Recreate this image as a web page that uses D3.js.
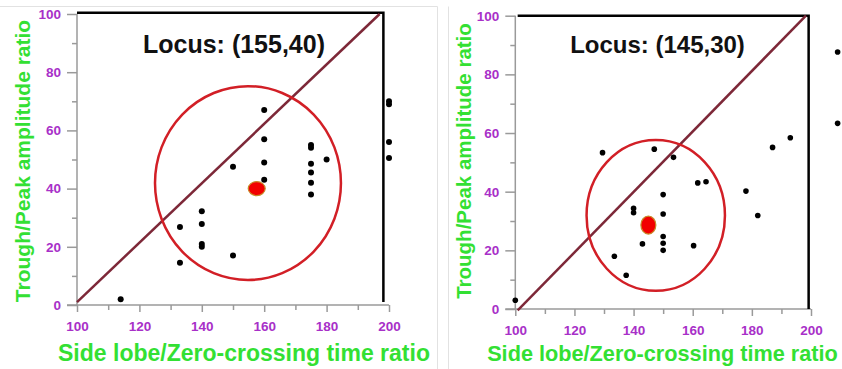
<!DOCTYPE html>
<html>
<head>
<meta charset="utf-8">
<script src="https://cdn.jsdelivr.net/npm/d3@7"></script>
<style>
  body { margin: 0; background: #fff; }
  svg { display: block; font-family: "Liberation Sans", Arial, sans-serif; }
</style>
</head>
<body>
<svg id="chart" width="842" height="369"></svg>
<script>
// tick values shared by both panels
const xTicks = [100, 120, 140, 160, 180, 200];
const yTicks = [0, 20, 40, 60, 80, 100];
const xMinor = [110, 130, 150, 170, 190];
const yMinor = [10, 30, 50, 70, 90];

// left panel
const leftPoints = [
  [114, 2], [133, 14.5], [133, 26.8], [140, 20], [140, 21], [140, 27.8], [140, 32.2],
  [150, 17], [150, 47.5], [160, 43], [160, 49], [160, 57], [160, 67],
  [175, 38], [175, 42], [175, 45.5], [175, 48.5], [175, 54], [175, 55], [180, 50],
  [200, 50.5], [200, 56], [200, 69], [200, 70]
];
const leftLocus = [157.6, 40];
const leftCircle = [154.8, 41.9, 29.8, 33.3]; // cx, cy, rx, ry in data units
const leftDiagonal = [[100, 1], [197, 100]];
const leftFrame = [[100, 100.4], [198.2, 100.4], [198.2, 1]];
const leftLabel = "Locus: (155,40)";

// right panel
const rightPoints = [
  [100, 3], [129.5, 53.3], [133.5, 18], [137.5, 11.5], [140, 32.8], [140, 34.3],
  [143, 22.2], [147, 54.5], [150, 20], [150, 22.4], [150, 24.7], [150, 32.4], [150, 39],
  [153.5, 51.7], [160.3, 21.6], [161.7, 43], [164.5, 43.4], [178, 40.2], [182, 31.9],
  [187, 55.1], [193, 58.4], [209, 63.3], [209, 87.6]
];
const rightLocus = [145, 28.6];
const rightCircle = [147.5, 31.9, 23.4, 25.7];
const rightDiagonal = [[100.8, -0.5], [198.3, 100]];
const rightFrame = [[100.8, 100], [199.2, 100], [199.2, 0]];
const rightLabel = "Locus: (145,30)";

const xTitle = "Side lobe/Zero-crossing time ratio";
const yTitle = "Trough/Peak amplitude ratio";

const PURPLE = "#a830c8";
const GREEN = "#33e033";
const AXIS = "#9a9a9a";

const svg = d3.select("#chart");

// panel borders from the screenshot
svg.append("path")
    .attr("d", "M0,6.5H437.5V369 M448.5,6.5V369")
    .attr("fill", "none")
    .attr("stroke", "#e2e2e2")
    .attr("stroke-width", 1);

function drawPanel(cfg) {
    const x = d3.scaleLinear().domain([100, 200]).range(cfg.xRange);
    const y = d3.scaleLinear().domain([0, 100]).range(cfg.yRange);
    const g = svg.append("g");

    // axes: gray lines, major + minor ticks
    const xAxis = d3.axisBottom(x).tickValues(xTicks).tickSize(7).tickFormat(d3.format("d")).tickPadding(9);
    const yAxis = d3.axisLeft(y).tickValues(yTicks).tickSize(10).tickFormat(d3.format("d")).tickPadding(6);

    const gx = g.append("g").attr("transform", "translate(0," + y(0) + ")").call(xAxis);
    const gy = g.append("g").attr("transform", "translate(" + x(100) + ",0)").call(yAxis);

    g.append("g").attr("transform", "translate(0," + y(0) + ")")
        .call(d3.axisBottom(x).tickValues(xMinor).tickSize(5).tickFormat(""))
        .select(".domain").remove();
    g.append("g").attr("transform", "translate(" + x(100) + ",0)")
        .call(d3.axisLeft(y).tickValues(yMinor).tickSize(5).tickFormat(""))
        .select(".domain").remove();

    gx.select(".domain").attr("d", "M" + (x(100) - 10) + ",0H" + x(200));
    gy.select(".domain").attr("d", "M0," + y(100) + "V" + y(0));
    g.selectAll(".domain").attr("stroke", AXIS).attr("stroke-width", 1.5);
    g.selectAll(".tick line").attr("stroke", AXIS).attr("stroke-width", 1.5);
    g.selectAll(".tick text")
        .attr("fill", PURPLE)
        .attr("font-weight", "bold")
        .attr("font-size", 13.5)
        .attr("font-family", "Liberation Sans, Arial, sans-serif");

    // black frame on top/right
    g.append("path")
        .datum(cfg.frame)
        .attr("d", d3.line().x(d => x(d[0])).y(d => y(d[1])))
        .attr("fill", "none")
        .attr("stroke", "#000")
        .attr("stroke-width", 2.5);

    // diagonal
    g.append("path")
        .datum(cfg.diagonal)
        .attr("d", d3.line().x(d => x(d[0])).y(d => y(d[1])))
        .attr("stroke", "#7d2838")
        .attr("stroke-width", 2.5);

    // circle around the locus
    const c = cfg.circle;
    g.append("ellipse")
        .attr("cx", x(c[0]))
        .attr("cy", y(c[1]))
        .attr("rx", x(c[0] + c[2]) - x(c[0]))
        .attr("ry", y(c[1]) - y(c[1] + c[3]))
        .attr("fill", "none")
        .attr("stroke", "#d21f26")
        .attr("stroke-width", 2.5);

    g.selectAll("circle.pt")
        .data(cfg.points)
        .join("circle")
        .attr("class", "pt")
        .attr("cx", d => x(d[0]))
        .attr("cy", d => y(d[1]))
        .attr("r", cfg.r)
        .attr("fill", "#000");

    g.append("ellipse")
        .attr("cx", x(cfg.locus[0]))
        .attr("cy", y(cfg.locus[1]))
        .attr("rx", cfg.locusR[0])
        .attr("ry", cfg.locusR[1])
        .attr("fill", "#f20000")
        .attr("stroke", "#c98a2a")
        .attr("stroke-width", 1.2);

    g.append("text")
        .attr("x", cfg.labelPos[0])
        .attr("y", cfg.labelPos[1])
        .attr("text-anchor", "middle")
        .attr("font-weight", "bold")
        .attr("font-size", cfg.labelSize)
        .attr("fill", "#111")
        .text(cfg.label);

    g.append("text")
        .attr("x", cfg.xTitlePos[0])
        .attr("y", cfg.xTitlePos[1])
        .attr("text-anchor", "middle")
        .attr("font-weight", "bold")
        .attr("font-size", cfg.xTitleSize)
        .attr("fill", GREEN)
        .text(xTitle);

    g.append("text")
        .attr("transform", "translate(" + cfg.yTitlePos[0] + "," + cfg.yTitlePos[1] + ") rotate(-90)")
        .attr("text-anchor", "middle")
        .attr("font-weight", "bold")
        .attr("font-size", cfg.yTitleSize)
        .attr("fill", GREEN)
        .text(yTitle);
}

drawPanel({
    xRange: [77, 389], yRange: [305, 14],
    points: leftPoints, locus: leftLocus, locusR: [8.5, 7], circle: leftCircle,
    diagonal: leftDiagonal, frame: leftFrame, r: 3,
    label: leftLabel, labelPos: [234, 53], labelSize: 25,
    xTitlePos: [244, 361], yTitlePos: [30, 161], xTitleSize: 23, yTitleSize: 21
});

drawPanel({
    xRange: [515.3, 811], yRange: [309, 15.7],
    points: rightPoints, locus: rightLocus, locusR: [7.5, 9], circle: rightCircle,
    diagonal: rightDiagonal, frame: rightFrame, r: 2.8,
    label: rightLabel, labelPos: [657.5, 53], labelSize: 24,
    xTitlePos: [662.5, 361], yTitlePos: [471, 161], xTitleSize: 21.7, yTitleSize: 20.5
});
</script>
</body>
</html>
